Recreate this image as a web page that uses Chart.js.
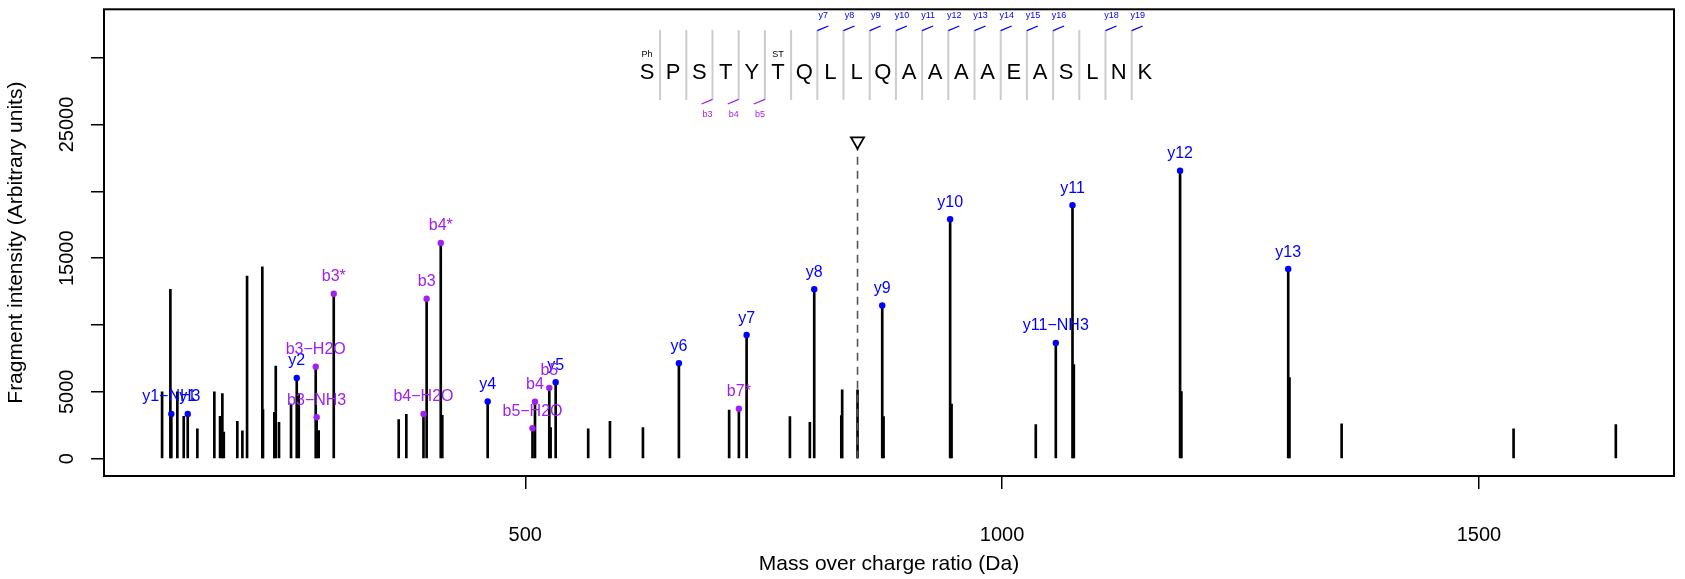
<!DOCTYPE html>
<html>
<head>
<meta charset="utf-8">
<script src="https://cdn.jsdelivr.net/npm/chart.js@4.4.1/dist/chart.umd.min.js"></script>
<style>
  html, body { margin: 0; padding: 0; background: #fff; }
</style>
</head>
<body>
<canvas id="spectrum" width="1685" height="579"></canvas>
<script>
// unannotated fragment peaks
const peakMz = [119.2, 127.9, 135.2, 141.9, 156.2, 174.0, 180.0, 182.4, 183.9, 198.1,
    203.4, 208.3, 224.3, 225.0, 236.9, 238.4, 241.8, 254.4, 262.5, 283.4,
    367.3, 375.3, 413.0, 526.6, 566.0, 588.8, 623.4, 713.8, 777.5, 798.4,
    831.4, 832.3, 848.4, 875.7, 947.0, 1035.3, 1075.2, 1188.0, 1301.3, 1356.0,
    1536.3, 1643.5];
const peakInt = [5000, 12680, 5000, 3170, 2240, 5000, 3170, 4880, 1990, 2800,
    2090, 13670, 14360, 3670, 3470, 6930, 2730, 4090, 4880, 2100,
    2930, 3320, 3250, 2330, 2240, 2800, 2330, 3640, 3150, 2730,
    3220, 5150, 5150, 3150, 4090, 2560, 7050, 5030, 6060, 2610,
    2240, 2560];

// matched y ions
const yIonLabels = ["y1\u2212NH3", "y1", "y2", "y4", "y5", "y6", "y7", "y8", "y9", "y10", "y11\u2212NH3", "y11", "y12", "y13"];
const yIonMz = [128.9, 146.1, 260.4, 460.6, 531.9, 661.1, 732.1, 803.0, 874.3, 945.5, 1056.3, 1073.8, 1186.6, 1300.0];
const yIonInt = [3350, 3350, 6040, 4280, 5720, 7150, 9250, 12680, 11470, 17920, 8660, 18960, 21550, 14190];

// matched b ions
const bIonLabels = ["b3\u2212H2O", "b3\u2212NH3", "b3*", "b4\u2212H2O", "b3", "b4*", "b5\u2212H2O", "b4", "b5", "b7*"];
const bIonMz = [280.3, 281.3, 299.2, 393.3, 396.6, 411.4, 507.6, 510.2, 525.2, 724.0];
const bIonInt = [6880, 3100, 12340, 3350, 11970, 16140, 2280, 4260, 5300, 3740];

const precursorMz = 848.4;
const precursorInt = 23750;

// peptide sequence header
const residues = ["S", "P", "S", "T", "Y", "T", "Q", "L", "L", "Q", "A", "A", "A", "A", "E", "A", "S", "L", "N", "K"];
const modSites = [0, 5];
const modNames = ["Ph", "ST"];
const yCutSites = [6, 7, 8, 9, 10, 11, 12, 13, 14, 15, 17, 18];
const yCutLabels = ["y7", "y8", "y9", "y10", "y11", "y12", "y13", "y14", "y15", "y16", "y18", "y19"];
const bCutSites = [2, 3, 4];
const bCutLabels = ["b3", "b4", "b5"];

const xTicks = [500, 1000, 1500];
const yTicks = [0, 5000, 10000, 15000, 20000, 25000, 30000];
const yTickLabels = [0, 5000, 15000, 25000];

const FONT = '"Liberation Sans", Arial, Helvetica, sans-serif';
const BLUE = "#0000ff";
const PURPLE = "#a020f0";

const toPoints = (xs, ys) => xs.map((x, i) => ({x: x, y: ys[i]}));

const stick = (xs, ys) => ({
    type: "bar",
    data: toPoints(xs, ys),
    backgroundColor: "#000",
    borderWidth: 0,
    barThickness: 2,
    grouped: false,
    order: 3
});

const dots = (xs, ys, labels, color) => ({
    type: "scatter",
    data: toPoints(xs, ys),
    peakLabels: labels,
    backgroundColor: color,
    borderWidth: 0,
    pointRadius: 3.2,
    order: 0
});

const peakLabelPlugin = {
    id: "peakLabels",
    afterDatasetsDraw(chart) {
        let c = chart.ctx;
        chart.data.datasets.forEach((ds, i) => {
            if (!ds.peakLabels) return;
            c.save();
            c.font = "16px " + FONT;
            c.fillStyle = ds.backgroundColor;
            c.textAlign = "center";
            c.textBaseline = "alphabetic";
            chart.getDatasetMeta(i).data.forEach((pt, j) => {
                c.fillText(ds.peakLabels[j], pt.x, pt.y - 12.5);
            });
            c.restore();
        });
    }
};

const framePlugin = {
    id: "frame",
    afterDraw(chart) {
        let c = chart.ctx;
        let a = chart.chartArea;
        c.save();
        c.strokeStyle = "#000";
        c.lineWidth = 2;
        c.strokeRect(a.left, a.top, a.right - a.left, a.bottom - a.top);

        // y tick labels, rotated like base R
        let ys = chart.scales.y;
        c.font = "20px " + FONT;
        c.fillStyle = "#000";
        c.textAlign = "center";
        c.textBaseline = "middle";
        yTickLabels.forEach(v => {
            c.save();
            c.translate(67, ys.getPixelForValue(v));
            c.rotate(-Math.PI / 2);
            c.fillText(String(v), 0, 0);
            c.restore();
        });
        c.restore();
    }
};

const sequencePlugin = {
    id: "sequence",
    afterDraw(chart) {
        let c = chart.ctx;
        let x0 = 647, step = 26.2;
        let cutX = k => x0 + (k + 0.5) * step;
        c.save();
        // separators
        c.strokeStyle = "#cccccc";
        c.lineWidth = 2;
        for (let k = 0; k < residues.length - 1; k++) {
            c.beginPath();
            c.moveTo(cutX(k), 30);
            c.lineTo(cutX(k), 100);
            c.stroke();
        }
        c.fillStyle = "#000";
        c.textAlign = "center";
        c.textBaseline = "middle";
        c.font = "22px " + FONT;
        residues.forEach((r, k) => c.fillText(r, x0 + k * step, 72.5));
        c.font = "9px " + FONT;
        modSites.forEach((k, i) => c.fillText(modNames[i], x0 + k * step, 54.5));

        c.lineWidth = 1.3;
        c.strokeStyle = BLUE;
        c.fillStyle = BLUE;
        yCutSites.forEach((k, i) => {
            let x = cutX(k);
            c.beginPath();
            c.moveTo(x, 30.7);
            c.lineTo(x + 11, 26);
            c.stroke();
            c.fillText(yCutLabels[i], x + 6, 15.5);
        });
        c.strokeStyle = PURPLE;
        c.fillStyle = PURPLE;
        bCutSites.forEach((k, i) => {
            let x = cutX(k);
            c.beginPath();
            c.moveTo(x, 99.3);
            c.lineTo(x - 11, 104);
            c.stroke();
            c.fillText(bCutLabels[i], x - 5, 114.5);
        });
        c.restore();
    }
};

new Chart(document.getElementById("spectrum"), {
    type: "scatter",
    data: {
        datasets: [
            dots(yIonMz, yIonInt, yIonLabels, BLUE),
            dots(bIonMz, bIonInt, bIonLabels, PURPLE),
            {
                type: "line",
                data: [{x: precursorMz, y: 0}, {x: precursorMz, y: precursorInt}],
                borderColor: "#555",
                borderWidth: 1.6,
                borderDash: [8, 6],
                pointRadius: [0, 7.5],
                pointStyle: "triangle",
                rotation: 180,
                pointBackgroundColor: "#fff",
                pointBorderColor: "#000",
                pointBorderWidth: 1.8,
                order: 2
            },
            stick(peakMz, peakInt),
            stick(yIonMz, yIonInt),
            stick(bIonMz, bIonInt)
        ]
    },
    options: {
        responsive: false,
        animation: false,
        events: [],
        layout: {padding: {top: 4.5, right: 11, bottom: 0, left: 0}},
        plugins: {legend: {display: false}, tooltip: {enabled: false}},
        scales: {
            x: {
                type: "linear",
                min: 58.3,
                max: 1704.5,
                offset: false,
                afterBuildTicks: s => { s.ticks = xTicks.map(v => ({value: v})); },
                afterFit: s => { s.height = 103; },
                grid: {offset: false, drawOnChartArea: false, drawTicks: true, tickLength: 13, color: "#000", lineWidth: 1.5},
                border: {display: false},
                ticks: {color: "#000", font: {family: FONT, size: 20}, padding: 34, maxRotation: 0,
                    callback: v => String(v)},
                title: {display: true, text: "Mass over charge ratio (Da)", color: "#000",
                    font: {family: FONT, size: 21}, padding: {top: 0, bottom: 2}}
            },
            y: {
                type: "linear",
                min: -1293,
                max: 33618,
                afterBuildTicks: s => { s.ticks = yTicks.map(v => ({value: v})); },
                afterFit: s => { s.width = 104; },
                grid: {offset: false, drawOnChartArea: false, drawTicks: true, tickLength: 13, color: "#000", lineWidth: 1.5},
                border: {display: false},
                ticks: {display: false},
                title: {display: true, text: "Fragment intensity (Arbitrary units)", color: "#000",
                    font: {family: FONT, size: 21}, padding: {top: 4, bottom: 0}}
            }
        }
    },
    plugins: [peakLabelPlugin, framePlugin, sequencePlugin]
});
</script>
</body>
</html>
